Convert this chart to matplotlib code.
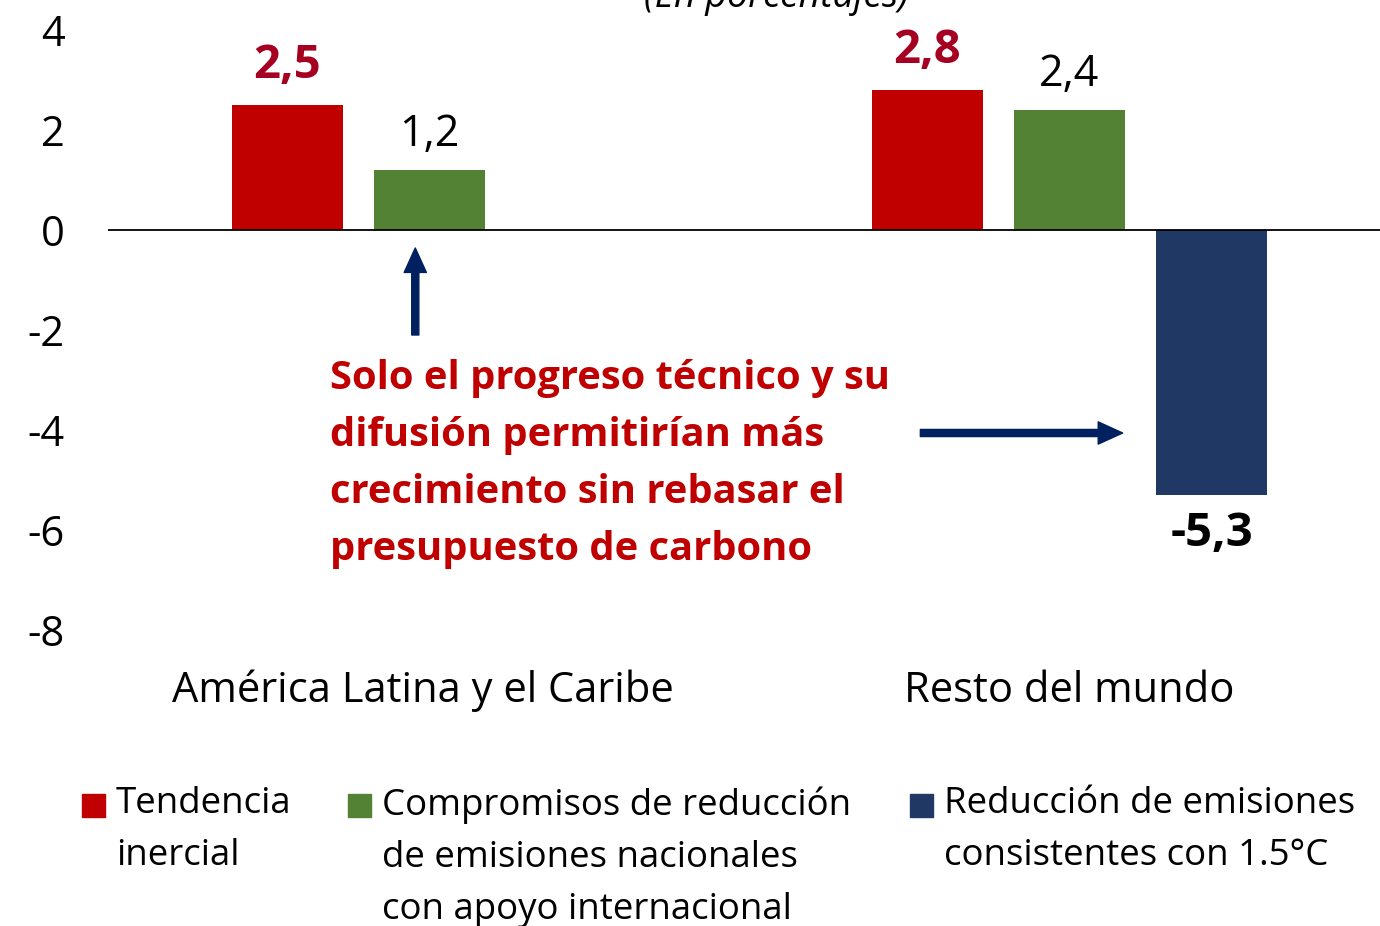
import numpy as np
import matplotlib
matplotlib.use("Agg")
import matplotlib.pyplot as plt
from matplotlib.patches import Rectangle

plt.rcParams['font.family'] = ['Open Sans', 'DejaVu Sans']

# Datos
categorias = ['América Latina y el Caribe', 'Resto del mundo']
tendencia = [2.5, 2.8]
compromisos = [1.2, 2.4]
reduccion = [np.nan, -5.3]
series_nombres = ['Tendencia\ninercial',
                  'Compromisos de reducción\nde emisiones nacionales\ncon apoyo internacional',
                  'Reducción de emisiones\nconsistentes con 1.5°C']
yticks = [4, 2, 0, -2, -4, -6, -8]

c_rojo = '#C00000'
c_verde = '#548235'
c_azul = '#203864'
c_flecha = '#002060'
c_etiqueta = '#A50021'

fig = plt.figure(figsize=(13.8, 9.26), dpi=100)
ax = fig.add_axes([108 / 1380, 296 / 926, 1272 / 1380, 600 / 926])

x = np.arange(len(categorias))
ancho = 0.173
paso = 0.222

ax.bar(x - paso, tendencia, ancho, color=c_rojo)
ax.bar(x, compromisos, ancho, color=c_verde)
ax.bar(x + paso, reduccion, ancho, color=c_azul)

ax.set_ylim(-8, 4)
ax.set_xlim(-0.502, 1.485)
ax.set_yticks(yticks)
ax.set_yticklabels([str(t) for t in yticks], fontsize=30)
ax.tick_params(axis='y', length=0, pad=31)
ax.set_xticks([])
for s in ax.spines.values():
    s.set_visible(False)
ax.axhline(0, color='black', lw=1.3)

# Etiquetas de valores
def fmt(v):
    return f'{v:.1f}'.replace('.', ',')

for xi, v in zip(x - paso, tendencia):
    ax.text(xi, v + 0.79, fmt(v), ha='center', va='center', fontsize=34,
            fontweight='bold', color=c_etiqueta)
for xi, v in zip(x, compromisos):
    ax.text(xi, v + 0.71, fmt(v), ha='center', va='center', fontsize=31, color='black')
for xi, v in zip(x + paso, reduccion):
    if not np.isnan(v):
        ax.text(xi, v - 0.76, fmt(v), ha='center', va='center', fontsize=34,
                fontweight='bold', color='black')

# Nombres de categorías
for xi, dx, c in zip(x, [-0.01, 0.0], categorias):
    ax.text(xi + dx, -9.22, c, ha='center', va='center', fontsize=30)

# Texto y flechas
ax.text(-0.155, -4.68, 'Solo el progreso técnico y su\ndifusión permitirían más\n'
        'crecimiento sin rebasar el\npresupuesto de carbono',
        ha='left', va='center', fontsize=28.7, fontweight='bold', color=c_rojo,
        linespacing=1.59)

estilo = 'simple,head_length=1.1,head_width=1.0,tail_width=0.32'
ax.annotate('', xy=(-0.022, -0.36), xytext=(-0.022, -2.1),
            arrowprops=dict(arrowstyle=estilo, color=c_flecha, mutation_scale=16,
                            shrinkA=0, shrinkB=0))
ax.annotate('', xy=(1.083, -4.06), xytext=(0.767, -4.06),
            arrowprops=dict(arrowstyle=estilo, color=c_flecha, mutation_scale=16,
                            shrinkA=0, shrinkB=0))

# Título (cortado arriba)
fig.text(776 / 1380, 1 - 7 / 926, '(En porcentajes)', ha='center', va='baseline',
         fontsize=27, style='italic')

# Leyenda
colores = [c_rojo, c_verde, c_azul]
pos_x = [82, 348, 910]
for px, col, nombre in zip(pos_x, colores, series_nombres):
    fig.add_artist(Rectangle((px / 1380, (926 - 817) / 926), 23 / 1380, 23 / 926,
                             transform=fig.transFigure, color=col))
    fig.text((px + 34) / 1380, (926 - 786) / 926, nombre, ha='left', va='top',
             fontsize=26.4, linespacing=1.6)

fig.savefig('out.png', dpi=100)
